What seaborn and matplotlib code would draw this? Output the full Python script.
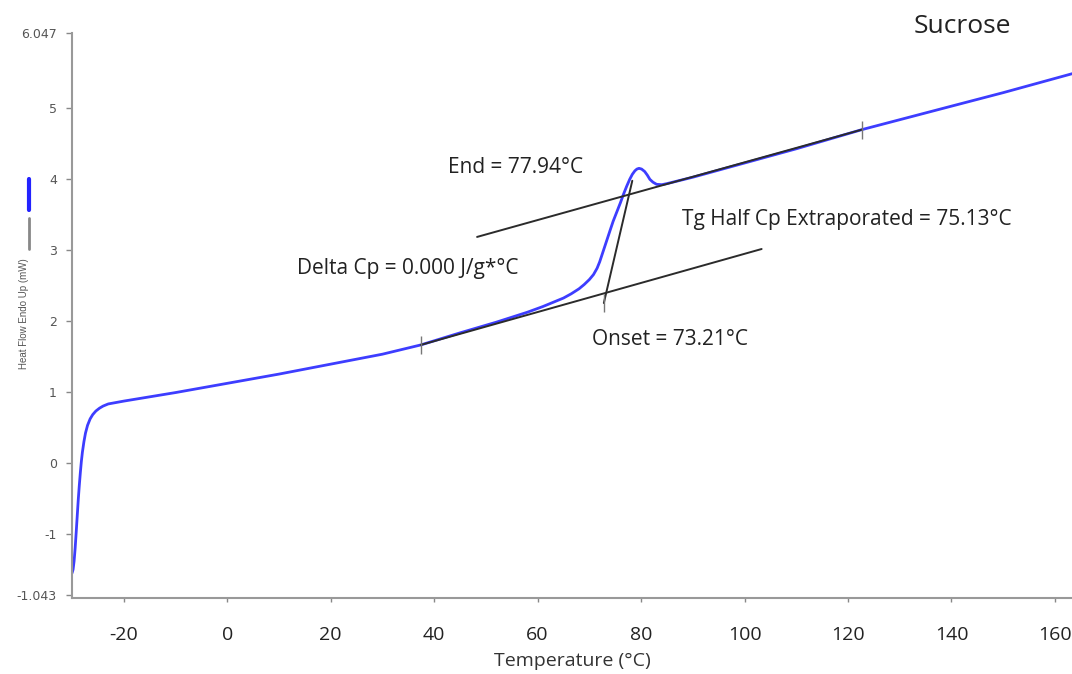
import pandas as pd
import matplotlib
matplotlib.use("Agg")
import matplotlib.pyplot as plt
import seaborn as sns
from matplotlib.lines import Line2D

# ---- data (temperature in degC, heat flow in mW) ----
temp = [-30.0, -29.8, -29.6, -29.4, -29.2, -29.0, -28.8, -28.6, -28.4, -28.2, -28.0,
        -27.7, -27.4, -27.0, -26.5, -26.0, -25.4, -24.7, -24.0, -23.0, -21.5, -20.0,
        -10.0, 0.0, 10.0, 20.0, 30.0, 37.4, 45.0, 52.0, 58.0, 61.0, 63.0, 65.0, 66.5,
        68.0, 69.0, 70.0, 70.8, 71.5, 72.0, 72.5, 73.0, 73.5, 74.0, 74.6, 75.3, 76.0,
        76.6, 77.2, 77.8, 78.3, 78.8, 79.2, 79.6, 80.1, 80.7, 81.2, 81.7, 82.3, 83.0,
        84.0, 85.0, 90.0, 100.0, 110.0, 122.7, 140.0, 150.0, 163.5]
heat_flow = [-1.55, -1.50, -1.38, -1.20, -0.98, -0.75, -0.52, -0.32, -0.14, 0.02, 0.15,
             0.30, 0.42, 0.53, 0.62, 0.68, 0.73, 0.77, 0.80, 0.83, 0.85, 0.87,
             0.99, 1.12, 1.25, 1.39, 1.53, 1.66, 1.83, 1.98, 2.12, 2.20, 2.26, 2.32, 2.38,
             2.45, 2.51, 2.58, 2.65, 2.74, 2.83, 2.94, 3.05, 3.16, 3.27, 3.40, 3.53, 3.66,
             3.78, 3.89, 3.99, 4.06, 4.11, 4.135, 4.145, 4.135, 4.10, 4.05, 3.99, 3.95, 3.92,
             3.915, 3.93, 4.02, 4.22, 4.42, 4.69, 5.02, 5.21, 5.48]

# tangent lines drawn by the analysis software
lower_tan_x = [37.4, 103.3]
lower_tan_y = [1.66, 3.01]
upper_tan_x = [48.3, 122.7]
upper_tan_y = [3.18, 4.69]
steep_tan_x = [72.8, 78.3]
steep_tan_y = [2.25, 3.97]
tick_x = [37.4, 122.7, 72.8]
tick_y = [1.66, 4.69, 2.25]

x_ticks = [-20, 0, 20, 40, 60, 80, 100, 120, 140, 160]
y_ticks = [-1.86, -1, 0, 1, 2, 3, 4, 5, 6.047]
y_tick_labels = ["-1.043", "-1", "0", "1", "2", "3", "4", "5", "6.047"]

annotations = [
    ("End = 77.94°C", 42.6, 4.15),
    ("Tg Half Cp Extraporated = 75.13°C", 88.0, 3.42),
    ("Delta Cp = 0.000 J/g*°C", 13.5, 2.74),
    ("Onset = 73.21°C", 70.5, 1.73),
]

sns.set_style("white")
plt.rcParams['font.family'] = ['Open Sans', 'DejaVu Sans']
plt.rcParams['axes.unicode_minus'] = False

fig = plt.figure(figsize=(10.72, 6.74), dpi=100)
ax = fig.add_axes([0.0672, 0.1128, 0.9328, 0.838])

df = pd.DataFrame({"T": temp, "HF": heat_flow})
sns.lineplot(data=df, x="T", y="HF", ax=ax, color="#3d3dff", linewidth=2, sort=False)

for xs, ys in [(lower_tan_x, lower_tan_y), (upper_tan_x, upper_tan_y), (steep_tan_x, steep_tan_y)]:
    sns.lineplot(x=xs, y=ys, ax=ax, color="#2b2b2b", linewidth=1.4, sort=False)

ax.scatter(tick_x, tick_y, marker="|", s=160, color="#777777", linewidths=1, zorder=5)

for txt, tx, ty in annotations:
    ax.text(tx, ty, txt, fontsize=15, color="#222222", ha="left", va="center")

ax.set_xlim(-30, 163.3)
ax.set_ylim(-1.90, 6.047)
ax.set_xticks(x_ticks)
ax.set_yticks(y_ticks)
ax.set_yticklabels(y_tick_labels, family=['DejaVu Sans'])
ax.tick_params(axis="x", bottom=True, labelsize=14, labelcolor="#222222", length=3,
               width=1, color="#888888", direction="out", pad=17)
ax.tick_params(axis="y", left=True, labelsize=9, labelcolor="#555555", length=4,
               width=1, color="#888888", direction="out", pad=7)

ax.set_xlabel("Temperature (°C)", fontsize=14, color="#333333", labelpad=6)
ax.set_ylabel("Heat Flow Endo Up (mW)", fontsize=7, color="#555555",
              family=['Liberation Sans Narrow', 'Liberation Sans'])
ax.yaxis.set_label_coords(-0.043, 0.503)

sns.despine(ax=ax)
for side in ["left", "bottom"]:
    ax.spines[side].set_color("#999999")
    ax.spines[side].set_linewidth(1.5)

# little legend swatches beside the y label
fig.add_artist(Line2D([0.027, 0.027], [0.734, 0.688], color="#2222ff", linewidth=3))
fig.add_artist(Line2D([0.027, 0.027], [0.677, 0.631], color="#888888", linewidth=2))

fig.text(0.898, 0.96, "Sucrose", fontsize=19, color="#222222", ha="center", va="center")

fig.savefig("out.png", dpi=100)
